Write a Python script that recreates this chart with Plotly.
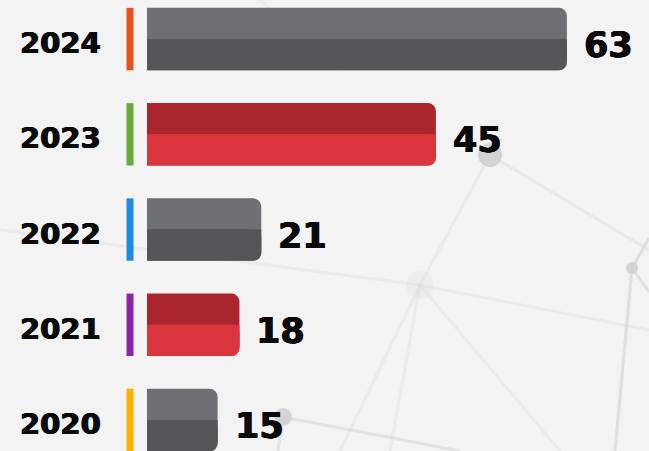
import plotly.graph_objects as go

years = ["2020", "2021", "2022", "2023", "2024"]
values = [15, 18, 21, 45, 63]
accent_colors = ["#ffb000", "#8e24aa", "#1e88e5", "#6aaa3a", "#e8501e"]
top_colors = ["#6f7074", "#aa252e", "#6f7074", "#aa252e", "#6f7074"]
bottom_colors = ["#555557", "#db353d", "#555557", "#db353d", "#555557"]

W, H = 649, 451
ML = 147
PW = W - ML
BAR_W = 0.655
HALF = BAR_W / 2
R_PX = 8
PX_PER_CAT = 95.25
R_U = R_PX / PX_PER_CAT + 0.01

fig = go.Figure()
fig.add_trace(go.Bar(y=years, x=values, orientation="h", base=0,
                     width=BAR_W, offset=-HALF,
                     marker=dict(color=top_colors, cornerradius=R_PX, line=dict(width=0)),
                     hoverinfo="skip"))
fig.add_trace(go.Bar(y=years, x=values, orientation="h", base=0,
                     width=HALF - R_U, offset=-HALF + R_U,
                     marker=dict(color=bottom_colors, line=dict(width=0)),
                     hoverinfo="skip"))
fig.add_trace(go.Bar(y=years, x=values, orientation="h", base=0,
                     width=HALF, offset=-HALF,
                     marker=dict(color=bottom_colors, cornerradius=R_PX, line=dict(width=0)),
                     hoverinfo="skip"))

def px2paper(px, py):
    return (px - ML) / PW, 1 - py / H

shapes = []
deco_lines = [
    ((420, 285), (0, 230), 0.25),
    ((420, 285), (649, 330), 0.25),
    ((420, 285), (490, 155), 0.25),
    ((420, 285), (340, 451), 0.25),
    ((420, 285), (390, 451), 0.25),
    ((420, 285), (560, 451), 0.25),
    ((490, 155), (649, 250), 0.3),
    ((632, 268), (615, 451), 0.6),
    ((632, 268), (649, 238), 0.6),
    ((632, 268), (649, 292), 0.6),
    ((283, 417), (460, 451), 0.5),
    ((283, 417), (278, 451), 0.5),
    ((260, 0), (340, 70), 0.2),
]
for (a, b, op) in deco_lines:
    x0, y0 = px2paper(*a)
    x1, y1 = px2paper(*b)
    shapes.append(dict(type="line", xref="paper", yref="paper", x0=x0, y0=y0, x1=x1, y1=y1,
                       line=dict(color="#d2d2d2", width=3), opacity=op, layer="below"))
for (cx, cy, r, op) in [(490, 155, 12, 0.9), (283, 417, 9, 0.9), (632, 268, 6, 0.9), (420, 285, 14, 0.15)]:
    x0, y0 = px2paper(cx - r, cy + r)
    x1, y1 = px2paper(cx + r, cy - r)
    shapes.append(dict(type="circle", xref="paper", yref="paper", x0=x0, y0=y0, x1=x1, y1=y1,
                       fillcolor="#d0d0d0", line=dict(width=0), opacity=op, layer="below"))

acc_x = (130 - ML) / PW
for i, c in enumerate(accent_colors):
    shapes.append(dict(type="line", xref="paper", yref="y", x0=acc_x, x1=acc_x,
                       y0=i - HALF, y1=i + HALF, line=dict(color=c, width=7)))

heavy = "0.6px 0 0 #0a0a0a, -0.6px 0 0 #0a0a0a, 0 0.4px 0 #0a0a0a"
annotations = []
year_x = (18 - ML) / PW
for i, (yr, v) in enumerate(zip(years, values)):
    annotations.append(dict(xref="paper", yref="y", x=year_x, y=i, text="<b>" + yr + "</b>",
                            showarrow=False, xanchor="left", yanchor="middle", yshift=-4,
                            font=dict(family="DejaVu Sans", size=29, color="#0a0a0a", shadow=heavy)))
    annotations.append(dict(xref="x", yref="y", x=v, y=i, text="<b>" + str(v) + "</b>",
                            showarrow=False, xanchor="left", yanchor="middle", xshift=15, yshift=-6,
                            font=dict(family="DejaVu Sans", size=35, color="#0a0a0a", shadow=heavy)))

fig.update_layout(
    width=W, height=H,
    margin=dict(l=ML, r=0, t=0, b=0),
    barmode="overlay",
    showlegend=False,
    paper_bgcolor="#f3f3f3",
    plot_bgcolor="rgba(0,0,0,0)",
    xaxis=dict(range=[5.3, 5.3 + PW / 7.277], visible=False, fixedrange=True),
    yaxis=dict(type="category", categoryorder="array", categoryarray=years,
               range=[-0.325, 4.41], visible=False, fixedrange=True),
    shapes=shapes,
    annotations=annotations,
)

fig.write_html("out.html", post_script="document.body.style.margin='0';",
               config={"displayModeBar": False})
